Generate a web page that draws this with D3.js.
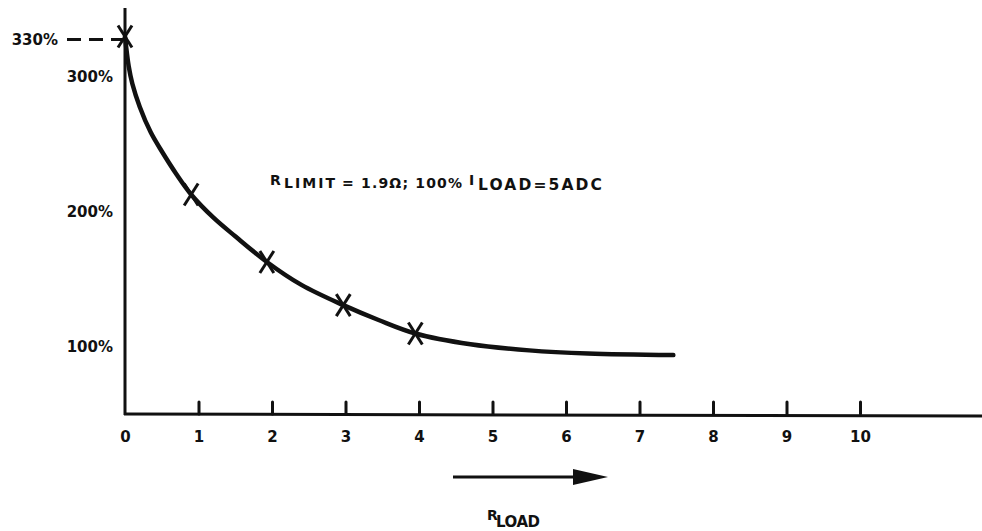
<!DOCTYPE html>
<html><head><meta charset="utf-8">
<script src="https://cdn.jsdelivr.net/npm/d3@7"></script>
<style>
html,body{margin:0;padding:0;background:#fff;}
svg{display:block;}
text{font-family:"DejaVu Sans",sans-serif;font-weight:bold;fill:#111;}
</style></head>
<body>
<script>
// ---- data ----
const xTicks = [0,1,2,3,4,5,6,7,8,9,10];
const yLabels = [100,200,300];
const peakValue = 330;
const curveX = [0, 0.05, 0.1, 0.2, 0.35, 0.5, 0.7, 0.9, 1.2, 1.5, 1.93, 2.4, 2.97, 3.45, 3.95, 4.7, 5.5, 6.3, 7.46];
const curveY = [330, 308, 295, 278, 259, 245, 228, 213, 196, 182, 163, 146, 131, 120, 110, 102, 97.5, 95.2, 94];
const markerX = [0, 0.9, 1.93, 2.97, 3.95];
const markerY = [330, 213, 163, 131, 110];

const W = 982, H = 531;
const svg = d3.select("body").append("svg").attr("width", W).attr("height", H);

const x = d3.scaleLinear().domain([0,10]).range([125,860]);
const y = d3.scaleLinear().domain([100,300]).range([347,77]);
const axisY = 414;
const FONT = "'DejaVu Sans',sans-serif";

// axes lines
svg.append("line").attr("x1", x(0)).attr("x2", x(0)).attr("y1", 8).attr("y2", axisY+1)
  .attr("stroke","#111").attr("stroke-width",3);
svg.append("line").attr("x1", x(0)-1).attr("x2", W).attr("y1", axisY).attr("y2", axisY+2)
  .attr("stroke","#111").attr("stroke-width",3);

// x axis ticks (upward) + labels below
const xAxis = d3.axisBottom(x).tickValues(xTicks).tickSizeInner(-12).tickSizeOuter(0).tickPadding(17)
  .tickFormat(d3.format("d"));
const gx = svg.append("g").attr("transform", `translate(0,${axisY})`).call(xAxis);
gx.select(".domain").remove();
gx.selectAll(".tick line").attr("stroke","#111").attr("stroke-width",3).attr("stroke-linecap","round")
  .style("display", d => d === 0 ? "none" : null);
gx.selectAll(".tick text").attr("fill","#111").style("font-size","15px")
  .style("font-family",FONT).style("font-weight","bold");

// y labels
svg.selectAll(".ylab").data(yLabels).enter().append("text")
  .attr("x", 113).attr("y", d => y(d)).attr("dy","0.36em")
  .attr("text-anchor","end").style("font-size","15px")
  .text(d => d + "%");

// 330% label and dashed line
svg.append("text").attr("x", 58).attr("y", y(peakValue)+3).attr("dy","0.36em")
  .attr("text-anchor","end").style("font-size","15px")
  .text(peakValue + "%");
svg.append("line").attr("x1", 67).attr("x2", x(0)).attr("y1", y(peakValue)+3).attr("y2", y(peakValue)+3)
  .attr("stroke","#111").attr("stroke-width",3).attr("stroke-dasharray","14,8");

// curve
const pts = curveX.map((d,i) => [d, curveY[i]]);
svg.append("path").datum(pts)
  .attr("d", d3.line().x(d => x(d[0])).y(d => y(d[1])).curve(d3.curveCatmullRom.alpha(0.5)))
  .attr("fill","none").attr("stroke","#111").attr("stroke-width",4.5).attr("stroke-linecap","round");

// markers
const mk = svg.selectAll(".mk").data(markerX.map((d,i)=>[d, markerY[i]])).enter().append("g")
  .attr("transform", d => `translate(${x(d[0])},${y(d[1])})`);
mk.append("line").attr("x1",-7).attr("y1",-11).attr("x2",7).attr("y2",11)
  .attr("stroke","#111").attr("stroke-width",3);
mk.append("line").attr("x1",-7).attr("y1",11).attr("x2",7).attr("y2",-11)
  .attr("stroke","#111").attr("stroke-width",3);

// annotation
function txt(s, px, py, size, len){
  const t = svg.append("text").attr("x",px).attr("y",py).style("font-size",size+"px").text(s);
  if(len) t.attr("textLength",len);
  return t;
}
txt("R", 270, 185, 14);
txt("LIMIT", 284, 188, 14, 51);
txt("= 1.9\u03A9; 100%", 342, 188, 14, 120);
txt("I", 469, 185, 14);
txt("LOAD=5ADC", 478, 190, 15.5, 124);

// arrow
svg.append("line").attr("x1",453).attr("x2",578).attr("y1",477).attr("y2",477)
  .attr("stroke","#111").attr("stroke-width",3);
svg.append("path").attr("d","M573,469 L608,477 L573,485 Z").attr("fill","#111");

// R LOAD label
txt("R", 487, 520, 14);
txt("LOAD", 496, 527, 15, 44);
</script>
</body></html>
